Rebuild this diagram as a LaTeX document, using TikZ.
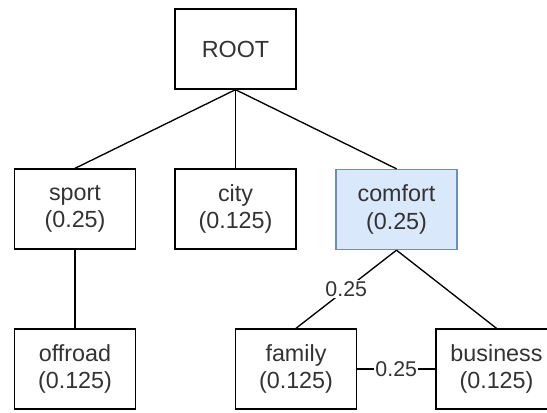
\documentclass[tikz,border=0pt]{standalone}
\usepackage{fontspec}
\setmainfont{Liberation Sans}
\definecolor{txt}{HTML}{333333}
\definecolor{cfill}{HTML}{DAE8FC}
\definecolor{cdraw}{HTML}{6C8EBF}
\begin{document}
\begin{tikzpicture}[x=0.75pt,y=-0.75pt,
  box/.style={draw=black,line width=1pt,rectangle,minimum width=90.75pt,minimum height=60pt,inner sep=0pt,align=center,text=txt,font=\fontsize{17.5}{20.5}\selectfont},
  hl/.style={box,fill=cfill,draw=cdraw},
  edge/.style={draw=black,line width=1pt},
  lbl/.style={fill=white,inner sep=1pt,text=txt,font=\fontsize{16}{18}\selectfont}]
\useasboundingbox (0,0) rectangle (547,412);
\node[box] (root) at (235.5,49) {ROOT};
\node[box] (sport) at (75,209) {sport\\(0.25)};
\node[box] (city) at (235.5,209) {city\\(0.125)};
\node[hl] (comfort) at (396.5,209.5) {comfort\\(0.25)};
\node[box] (offroad) at (75,369) {offroad\\(0.125)};
\node[box] (family) at (296,369) {family\\(0.125)};
\node[box] (business) at (496.5,369) {business\\(0.125)};
\draw[edge] (root.south) -- (sport.north);
\draw[edge] (root.south) -- (city.north);
\draw[edge] (root.south) -- (comfort.north);
\draw[edge] (sport.south) -- (offroad.north);
\draw[edge] (comfort.south) -- node[lbl] {0.25} (family.north);
\draw[edge] (comfort.south) -- (business.north);
\draw[edge] (family.east) -- node[lbl] {0.25} (business.west);
\end{tikzpicture}
\end{document}
